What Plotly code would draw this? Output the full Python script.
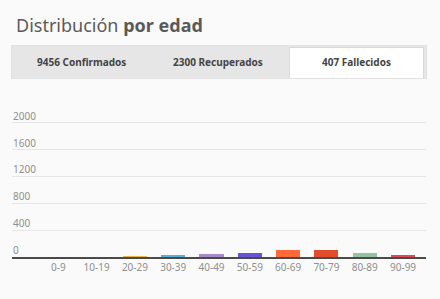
import plotly.graph_objects as go

# ---- data ----
age_groups = ["0-9", "10-19", "20-29", "30-39", "40-49", "50-59", "60-69", "70-79", "80-89", "90-99"]
deaths = [0, 0, 8, 12, 40, 55, 105, 105, 62, 20]
bar_colors = ["#f2c94c", "#6fcf97", "#e8b64c", "#5ab0dc", "#a88bc6", "#6a52d6",
              "#ff6a3a", "#e04c2c", "#92c4a4", "#e04a52"]
y_ticks = [0, 400, 800, 1200, 1600, 2000]
tab_labels = ["9456 Confirmados", "2300 Recuperados", "407 Fallecidos"]
title_regular = "Distribución"
title_bold = "por edad"

W, H = 440, 299
FONT = "Noto Sans"


def px(x):
    return x / W


def py(y):
    return 1 - y / H


fig = go.Figure()
fig.add_trace(go.Bar(
    x=list(range(len(age_groups))),
    y=deaths,
    marker=dict(color=bar_colors, line=dict(width=0)),
    width=0.63,
    hoverinfo="skip",
))

shapes = [
    # tab strip
    dict(type="rect", xref="paper", yref="paper", x0=px(11), x1=px(427), y0=py(79), y1=py(45),
         fillcolor="#e2e2e2", line=dict(width=0), layer="below"),
    dict(type="rect", xref="paper", yref="paper", x0=px(12), x1=px(426), y0=py(78), y1=py(46),
         fillcolor="#e6e6e6", line=dict(width=0), layer="below"),
    # active tab shadow + tab
    dict(type="rect", xref="paper", yref="paper", x0=px(289), x1=px(424), y0=py(78), y1=py(47),
         fillcolor="#d9d9d9", line=dict(width=0), layer="below"),
    dict(type="rect", xref="paper", yref="paper", x0=px(290), x1=px(423), y0=py(78), y1=py(48),
         fillcolor="#ffffff", line=dict(width=0), layer="below"),
]

annotations = [
    dict(text=f"{title_regular} <b>{title_bold}</b>", xref="paper", yref="paper",
         x=px(14), y=py(25), xanchor="left", yanchor="middle", showarrow=False,
         font=dict(family=FONT, size=18, color="#5a5a5a")),
]
tab_centers = [81, 218, 356]
for lbl, cx in zip(tab_labels, tab_centers):
    annotations.append(dict(text=f"<b>{lbl}</b>", xref="paper", yref="paper",
                            x=px(cx), y=py(62), xanchor="center", yanchor="middle",
                            showarrow=False, font=dict(family=FONT, size=10, color="#444444")))
# y tick labels placed above the gridlines
for v in y_ticks:
    annotations.append(dict(text=str(v), xref="paper", yref="y", x=px(11), y=v,
                            xanchor="left", yanchor="bottom", yshift=-2, showarrow=False,
                            font=dict(family=FONT, size=10, color="#8f8f8f")))

Y_TOP = 2200
y_scale = (257 - 122.7) / 2000.0
fig.update_layout(
    width=W, height=H,
    margin=dict(l=0, r=0, t=0, b=0),
    paper_bgcolor="#fafafa",
    plot_bgcolor="rgba(0,0,0,0)",
    showlegend=False,
    shapes=shapes,
    annotations=annotations,
    bargap=0,
    xaxis=dict(
        domain=[px(12), px(426)],
        range=[-1.21, 9.6],
        tickmode="array",
        tickvals=list(range(len(age_groups))),
        ticktext=age_groups,
        showgrid=False,
        zeroline=False,
        showline=True,
        linecolor="#4a4a4a",
        linewidth=2,
        ticks="",
        tickfont=dict(family=FONT, size=10, color="#8f8f8f"),
    ),
    yaxis=dict(
        domain=[py(257), py(257 - Y_TOP * y_scale)],
        range=[0, Y_TOP],
        tickmode="array",
        tickvals=y_ticks,
        showticklabels=False,
        showgrid=True,
        gridcolor="#e6e6e6",
        gridwidth=1,
        zeroline=False,
        showline=False,
    ),
)

fig.write_html(
    "out.html",
    config={"displayModeBar": False},
    post_script="document.body.style.margin='0';document.body.style.background='#fafafa';",
)
